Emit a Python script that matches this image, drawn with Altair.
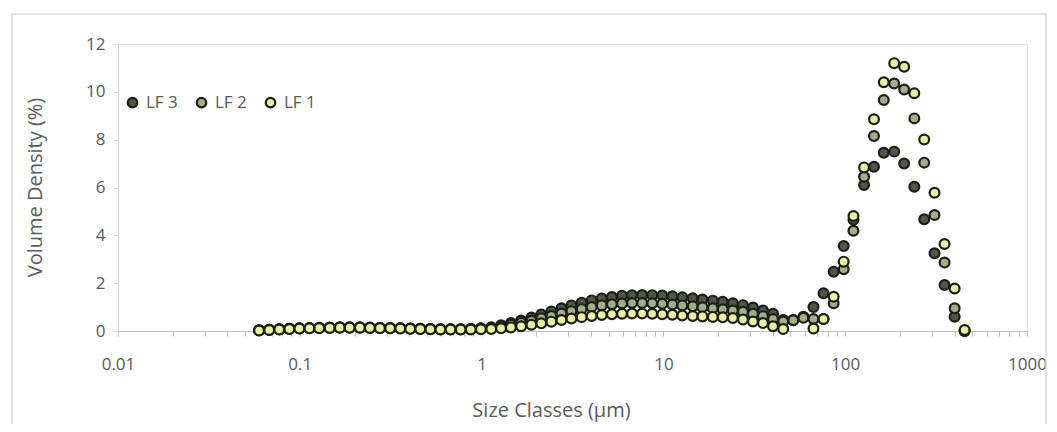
import altair as alt
import pandas as pd

size_classes = [0.0597, 0.0679, 0.0771, 0.0876, 0.0995, 0.113, 0.128, 0.146, 0.166, 0.188,
                0.214, 0.243, 0.276, 0.314, 0.357, 0.405, 0.460, 0.523, 0.594, 0.675,
                0.767, 0.872, 0.991, 1.13, 1.28, 1.45, 1.65, 1.88, 2.13, 2.42,
                2.75, 3.12, 3.55, 4.03, 4.58, 5.21, 5.92, 6.72, 7.64, 8.68,
                9.86, 11.2, 12.7, 14.5, 16.4, 18.7, 21.2, 24.1, 27.4, 31.1,
                35.3, 40.1, 45.6, 51.8, 58.9, 66.9, 76.0, 86.4, 98.1, 111,
                127, 144, 163, 186, 211, 240, 272, 310, 352, 400, 454]

lf3 = [0.03, 0.05, 0.07, 0.09, 0.11, 0.13, 0.14, 0.15, 0.16, 0.16, 0.16, 0.15, 0.14, 0.13, 0.12,
       0.1, 0.09, 0.08, 0.07, 0.07, 0.07, 0.08,
       0.11, 0.16, 0.24, 0.33, 0.44, 0.56, 0.69, 0.82, 0.95, 1.07, 1.18, 1.28, 1.36, 1.42, 1.47,
       1.5, 1.51, 1.5, 1.48, 1.45, 1.41, 1.37, 1.32, 1.27, 1.22, 1.16, 1.08, 0.98, 0.86, 0.72, 0.46,
       0.46, 0.6, 1.0, 1.58, 2.48, 3.55, 4.65, 6.1, 6.87, 7.45, 7.5, 7.0, 6.03, 4.67, 3.25, 1.92,
       0.6, 0]

lf2 = [0.03, 0.05, 0.07, 0.09, 0.11, 0.12, 0.13, 0.14, 0.15, 0.15, 0.15, 0.14, 0.13, 0.12, 0.11,
       0.1, 0.09, 0.08, 0.07, 0.07, 0.07, 0.08,
       0.1, 0.13, 0.19, 0.26, 0.34, 0.43, 0.53, 0.63, 0.73, 0.83, 0.92, 1.0, 1.07, 1.12, 1.15,
       1.17, 1.17, 1.16, 1.14, 1.11, 1.07, 1.03, 0.99, 0.95, 0.91, 0.86, 0.8, 0.72, 0.62, 0.5, 0.4,
       0.45, 0.55, 0.5, 0.5, 1.16, 2.58, 4.19, 6.45, 8.15, 9.66, 10.35, 10.1, 8.89, 7.04, 4.85, 2.86,
       0.95, 0]

lf1 = [0.02, 0.04, 0.06, 0.08, 0.1, 0.11, 0.12, 0.13, 0.14, 0.14, 0.14, 0.13, 0.12, 0.11, 0.1,
       0.09, 0.08, 0.07, 0.06, 0.06, 0.06, 0.06,
       0.07, 0.08, 0.11, 0.15, 0.2, 0.26, 0.32, 0.39, 0.46, 0.52, 0.58, 0.63, 0.67, 0.7, 0.72,
       0.73, 0.73, 0.72, 0.7, 0.68, 0.65, 0.63, 0.61, 0.59, 0.57, 0.54, 0.48, 0.4, 0.33, 0.2, 0.08,
       None, None, 0.1, 0.5, 1.43, 2.9, 4.81, 6.84, 8.85, 10.4, 11.2, 11.05, 9.94, 8.01, 5.78, 3.64,
       1.78, 0.04]

series_names = ["LF 3", "LF 2", "LF 1"]
series_colors = ["#50564a", "#a3ad8e", "#e9f0a6"]
major_ticks = [0.01, 0.1, 1, 10, 100, 1000]
y_ticks = [0, 2, 4, 6, 8, 10, 12]

rows = []
for k, (name, vals) in enumerate(zip(series_names, [lf3, lf2, lf1])):
    for s, v in zip(size_classes, vals):
        if v is not None:
            rows.append({"size": s, "value": v, "series": name, "ord": k})
df = pd.DataFrame(rows)

minor_ticks = []
for d in major_ticks[:-1]:
    for m in range(1, 10):
        minor_ticks.append(round(d * m, 6))
minor_ticks.append(1000)

FONT = "Open Sans"
GRAY = "#595959"
OUTLINE = "#1a1f12"

points = alt.Chart(df).mark_point(
    filled=True, shape="circle", size=96, stroke=OUTLINE, strokeWidth=2.2, opacity=1
).encode(
    x=alt.X("size:Q",
            scale=alt.Scale(type="log", domain=[0.01, 1000]),
            axis=alt.Axis(values=minor_ticks, format="~g",
                          labelExpr="indexof(['0.01','0.1','1','10','100','1000'], datum.label) >= 0 ? datum.label : ''",
                          labelOverlap=False, labelFlush=False, grid=False, tickSize=5,
                          labelPadding=20, labelFontSize=17, labelColor=GRAY,
                          domainColor="#bfbfbf", tickColor="#bfbfbf",
                          title="Size Classes (µm)", titleFontSize=20,
                          titleFontWeight="normal", titleColor=GRAY,
                          titleX=433, titleY=79, titleBaseline="middle", titleAlign="center")),
    y=alt.Y("value:Q",
            scale=alt.Scale(domain=[0, 12], nice=False),
            axis=alt.Axis(values=y_ticks, grid=False, tickSize=5, labelPadding=8,
                          labelFontSize=17, labelColor=GRAY,
                          domainColor="#d9d9d9", tickColor="#d9d9d9",
                          title="Volume Density (%)", titleFontSize=20,
                          titleFontWeight="normal", titleColor=GRAY,
                          titleX=-83, titleY=143, titleAngle=-90,
                          titleBaseline="middle", titleAlign="center")),
    fill=alt.Fill("series:N",
                  scale=alt.Scale(domain=series_names, range=series_colors),
                  legend=alt.Legend(title=None, orient="none", legendX=6, legendY=50,
                                    direction="horizontal", symbolType="circle",
                                    symbolSize=90, symbolStrokeColor=OUTLINE,
                                    symbolStrokeWidth=2.2, labelFontSize=17,
                                    labelColor=GRAY, columnPadding=14, labelOffset=5)),
    order=alt.Order("ord:Q"),
)

frame = alt.Chart(pd.DataFrame({"a": [0]})).mark_rect(
    fill=None, stroke="#d9d9d9", strokeWidth=1.5
).encode(
    x=alt.value(-106), x2=alt.value(928), y=alt.value(-30), y2=alt.value(388)
)

chart = alt.layer(frame, points).properties(
    width=909, height=287,
    autosize=alt.AutoSizeParams(type="none"),
    padding={"left": 110, "top": 36, "right": 22, "bottom": 93},
).configure_view(stroke=None).configure(font=FONT)

chart.save("out.html", embed_options={"renderer": "svg", "actions": False})
